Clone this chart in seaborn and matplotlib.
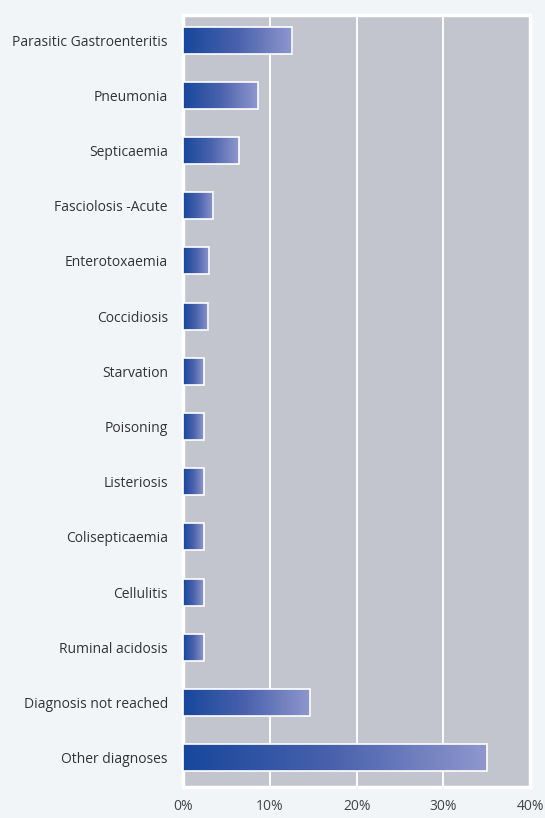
import matplotlib
matplotlib.use("Agg")
import matplotlib.pyplot as plt
import numpy as np
import pandas as pd
import seaborn as sns
from matplotlib.colors import LinearSegmentedColormap
from matplotlib.ticker import FuncFormatter

diagnoses = [
    "Parasitic Gastroenteritis",
    "Pneumonia",
    "Septicaemia",
    "Fasciolosis -Acute",
    "Enterotoxaemia",
    "Coccidiosis",
    "Starvation",
    "Poisoning",
    "Listeriosis",
    "Colisepticaemia",
    "Cellulitis",
    "Ruminal acidosis",
    "Diagnosis not reached",
    "Other diagnoses",
]
percent = [12.6, 8.6, 6.4, 3.5, 3.0, 2.9, 2.4, 2.4, 2.4, 2.4, 2.4, 2.4, 14.6, 35.0]
x_ticks = [0, 10, 20, 30, 40]

df = pd.DataFrame({"diagnosis": diagnoses, "percent": percent})

sns.set_style("white")
plt.rcParams["font.family"] = ["Open Sans", "DejaVu Sans"]

fig = plt.figure(figsize=(5.45, 8.18), dpi=100)
fig.patch.set_facecolor("#f2f5f8")
ax = fig.add_axes([0.336, 0.038, 0.637, 0.944])
ax.set_facecolor("#c2c4ce")

sns.barplot(data=df, x="percent", y="diagnosis", width=0.49, color="#1a4a9e",
            ax=ax, zorder=3)

# left-to-right gradient inside each bar, white outline on top
grad_cmap = LinearSegmentedColormap.from_list("bar", ["#17479c", "#4a62ad", "#8f97cd"])
gradient = np.linspace(0, 1, 256).reshape(1, -1)
for bar in list(ax.patches):
    x0, y0 = bar.get_x(), bar.get_y()
    w, h = bar.get_width(), bar.get_height()
    im = ax.imshow(gradient, cmap=grad_cmap, aspect="auto", zorder=3,
                   extent=[x0, x0 + w, y0 + h, y0], interpolation="bilinear")
    im.set_clip_path(bar)
    bar.set_facecolor("none")
    bar.set_edgecolor("white")
    bar.set_linewidth(1.2)
    bar.set_zorder(4)

ax.set_xlim(0, 40)
ax.set_ylim(13.53, -0.46)
ax.set_xticks(x_ticks)
ax.xaxis.set_major_formatter(FuncFormatter(lambda v, _: f"{v:.0f}%"))
ax.grid(axis="x", color="white", linewidth=1.4, zorder=1)
ax.set_axisbelow(True)
ax.tick_params(axis="both", length=0)
ax.tick_params(axis="x", pad=9, labelsize=10, labelcolor="#444444")
ax.tick_params(axis="y", pad=11, labelsize=10, labelcolor="#333333")
for side in ["top", "bottom", "left", "right"]:
    ax.spines[side].set_visible(True)
    ax.spines[side].set_color("white")
    ax.spines[side].set_linewidth(2.5)
ax.set_xlabel("")
ax.set_ylabel("")

fig.savefig("out.png", dpi=100, facecolor=fig.get_facecolor())
